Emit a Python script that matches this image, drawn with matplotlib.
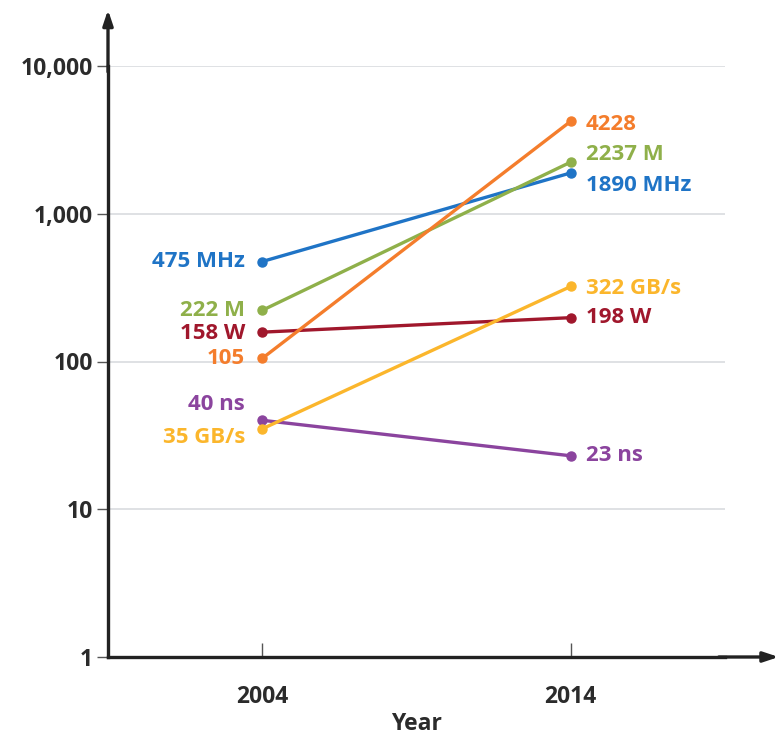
import matplotlib.pyplot as plt
from matplotlib.ticker import FixedLocator

years = [2004, 2014]

# one entry per metric: start value, end value, label text at each end
series_names = ["clock", "transistors", "power", "cores", "latency", "bandwidth"]
start_values = [475, 222, 158, 105, 40, 35]
end_values = [1890, 2237, 198, 4228, 23, 322]
start_labels = ["475 MHz", "222 M", "158 W", "105", "40 ns", "35 GB/s"]
end_labels = ["1890 MHz", "2237 M", "198 W", "4228", "23 ns", "322 GB/s"]

y_ticks = [1, 10, 100, 1000, 10000]
y_tick_labels = ["1", "10", "100", "1,000", "10,000"]

COLORS = {"clock": "#1f74c6",
          "transistors": "#8fb04a",
          "power": "#a0172c",
          "cores": "#f47d2c",
          "latency": "#8b449e",
          "bandwidth": "#fbb62c"}

# vertical nudges (pixels) so neighbouring labels do not collide
START_NUDGE = {"clock": 0, "transistors": 0, "power": -1, "cores": 0, "latency": 16, "bandwidth": -9}
END_NUDGE = {"clock": -13, "transistors": 8, "power": 0, "cores": -3, "latency": 0, "bandwidth": -2}

FONT = "Open Sans"
TEXT_DARK = "#2b2b2b"
LABEL_SIZE = 16
TICK_SIZE = 16.5

fig = plt.figure(figsize=(7.79, 7.35), dpi=100)
W, H = 779, 735
left, right, top, bottom = 108, 725, 66, 657
ax = fig.add_axes([left / W, (H - bottom) / H, (right - left) / W, (bottom - top) / H])

ax.set_yscale("log")
ax.set_ylim(1, 10000)
ax.set_xlim(1999, 2019)

for y in y_ticks[1:]:
    ax.axhline(y, color="#d6d9dd", lw=1.1, zorder=0)

for i, name in enumerate(series_names):
    c = COLORS[name]
    ax.plot(years, [start_values[i], end_values[i]], "-o", color=c,
            lw=2.4, ms=6.5, solid_capstyle="round", zorder=3)
    ax.annotate(start_labels[i], (years[0], start_values[i]),
                xytext=(-17, START_NUDGE[name]), textcoords="offset pixels",
                ha="right", va="center", color=c, fontsize=LABEL_SIZE,
                fontweight="bold", family=FONT)
    ax.annotate(end_labels[i], (years[1], end_values[i]),
                xytext=(15, END_NUDGE[name]), textcoords="offset pixels",
                ha="left", va="center", color=c, fontsize=LABEL_SIZE,
                fontweight="bold", family=FONT)

for side in ["top", "right"]:
    ax.spines[side].set_visible(False)
for side in ["left", "bottom"]:
    ax.spines[side].set_linewidth(2.4)
    ax.spines[side].set_color("#222222")

# arrow heads on both axes
ax.annotate("", xy=(1.087, 0), xytext=(0.99, 0), xycoords="axes fraction",
            arrowprops=dict(arrowstyle="-|>,head_length=0.9,head_width=0.3",
                            color="#222222", lw=2.4, shrinkA=0, shrinkB=0))
ax.annotate("", xy=(0, 1.095), xytext=(0, 0.99), xycoords="axes fraction",
            arrowprops=dict(arrowstyle="-|>,head_length=0.9,head_width=0.3",
                            color="#222222", lw=2.4, shrinkA=0, shrinkB=0))

ax.yaxis.set_major_locator(FixedLocator(y_ticks))
ax.yaxis.set_minor_locator(FixedLocator([]))
ax.set_yticklabels(y_tick_labels)
ax.set_xticks(years)
ax.set_xticklabels([str(y) for y in years])
ax.tick_params(axis="y", direction="out", length=8, width=1, color="#555555",
               pad=3, labelsize=TICK_SIZE, labelcolor=TEXT_DARK)
ax.tick_params(axis="x", direction="in", length=10, width=1, color="#555555",
               pad=20, labelsize=TICK_SIZE, labelcolor=TEXT_DARK)
for lbl in ax.get_xticklabels() + ax.get_yticklabels():
    lbl.set_fontfamily(FONT)
    lbl.set_fontweight("bold")

ax.set_xlabel("Year", fontsize=TICK_SIZE, family=FONT, fontweight="bold",
              color=TEXT_DARK, labelpad=2)

fig.savefig("out.png", dpi=100)
